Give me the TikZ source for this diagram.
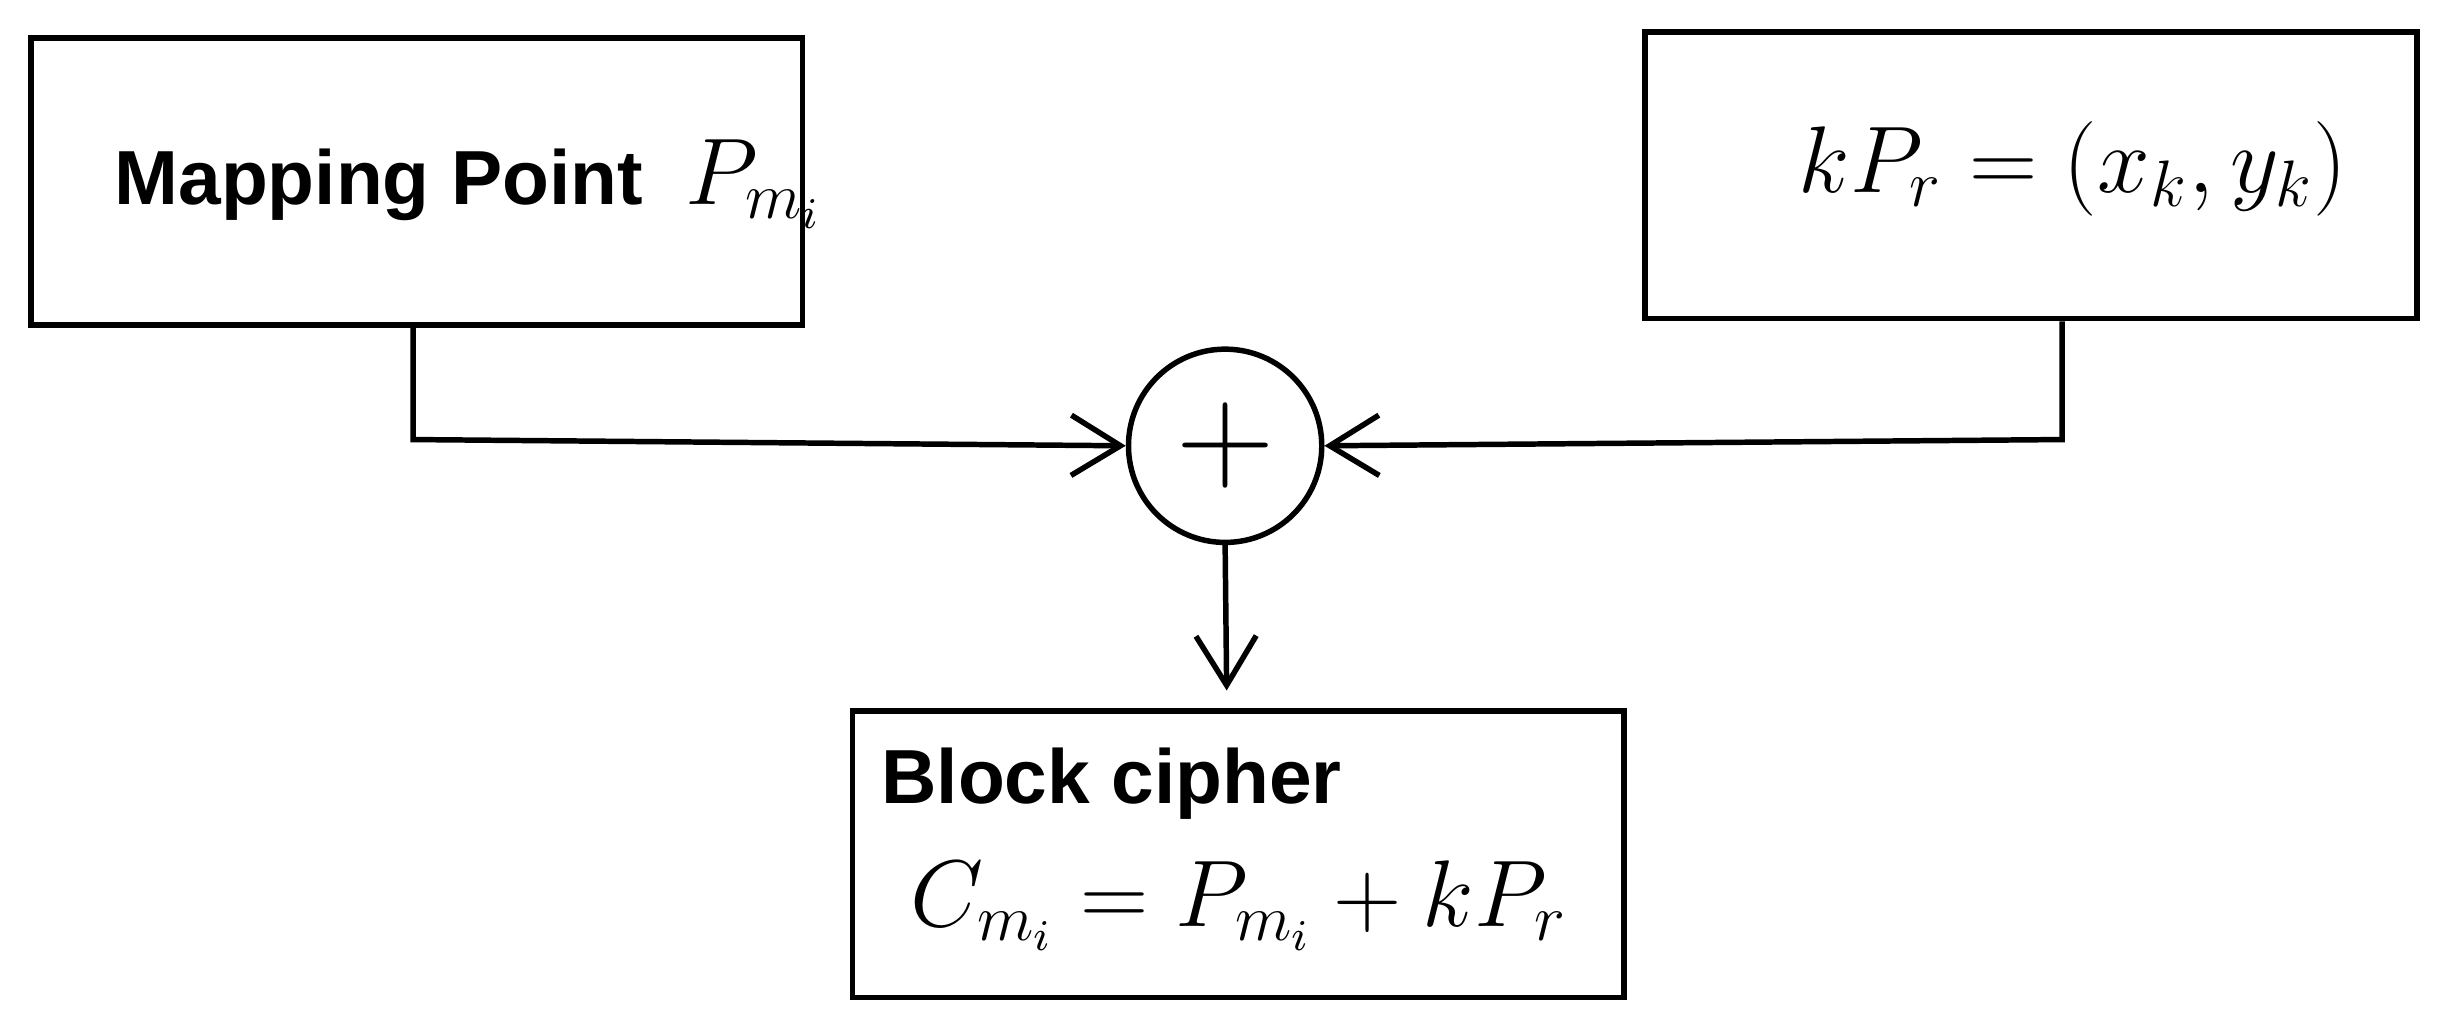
\documentclass[tikz,border=0pt]{standalone}
\usepackage{amsmath}
\usepackage{fontspec}
\setmainfont{Liberation Sans}
\usetikzlibrary{arrows.meta,positioning}
\begin{document}
\begin{tikzpicture}[line width=1pt,
    box/.style = {draw, minimum width=4.95cm, minimum height=1.84cm, inner sep=0pt},
    sum node/.style = {circle, draw, minimum size=1.24cm, inner sep=0pt},
    arr/.style = {-{Straight Barb[length=9pt,width=11pt]}},
    lbl/.style = {font=\fontsize{14}{16}\selectfont\bfseries}]
    \useasboundingbox (0,0) rectangle (15.68,6.63);

    \node[box] (map) at (2.675,5.465) {};
    \node[box] (key) at (13.03,5.505) {};
    \node[sum node] (sum) at (7.86,3.77) {\fontsize{30}{30}\selectfont$+$};
    \node[box] (ciph) at (7.945,1.15) {};

    \node[lbl, anchor=west] (maptxt) at (0.6,5.45) {Mapping Point \ \fontsize{17}{18}\selectfont$P_{m_i}$};
    \node[anchor=center] (keytxt) at (13.3,5.55) {\fontsize{17}{18}\selectfont$kP_r=(x_k,y_k)$};
    \node[lbl, anchor=west] (ciphtxt) at (5.52,1.6) {Block cipher};
    \node (ciphform) at (7.95,0.82) {\fontsize{17}{18}\selectfont$C_{m_i}=P_{m_i}+kP_r$};

    \coordinate (mapbend) at (2.65,3.81);
    \coordinate (keybend) at (13.23,3.81);
    \draw[arr] (2.65,5.465 |- map.south) -- (mapbend) -- (sum.west);
    \draw[arr] (13.23,5.505 |- key.south) -- (keybend) -- (sum.east);
    \draw[arr] (sum.south) -- (7.87,2.2);
\end{tikzpicture}
\end{document}
